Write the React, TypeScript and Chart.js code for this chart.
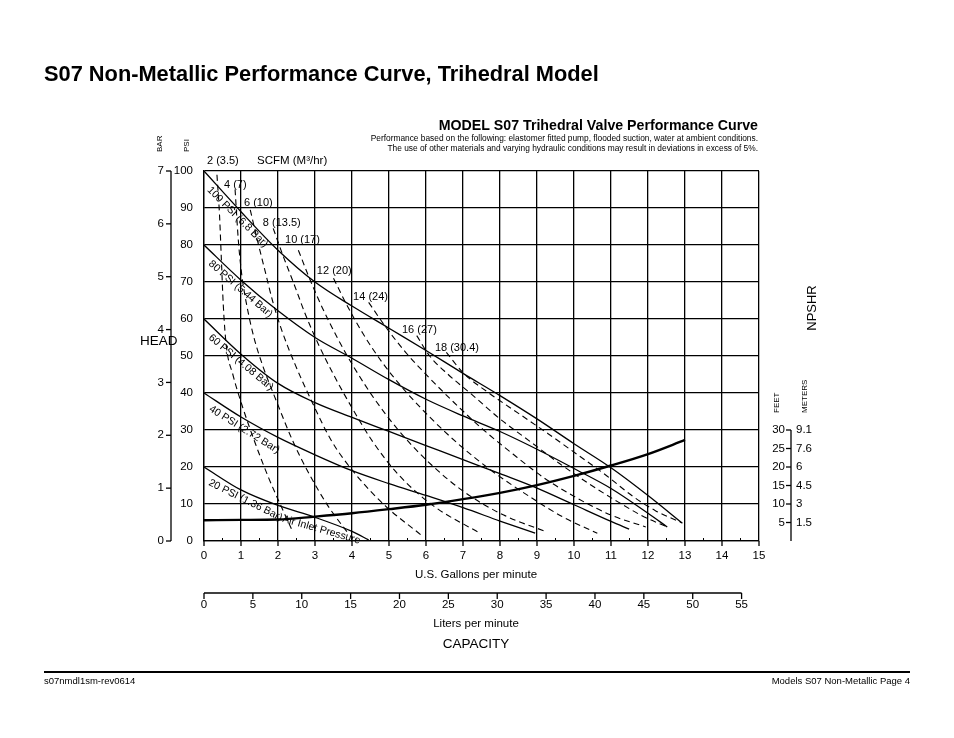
import React, { useEffect, useRef } from "react";
import { Chart, registerables } from "chart.js";

Chart.register(...registerables);

// ---------- axis ticks ----------
const gpmTicks = [0, 1, 2, 3, 4, 5, 6, 7, 8, 9, 10, 11, 12, 13, 14, 15];
const gpmHalfTicks = [0.5, 1.5, 2.5, 3.5, 4.5, 5.5, 6.5, 7.5, 8.5, 9.5, 10.5, 11.5, 12.5, 13.5, 14.5];
const psiTicks = [0, 10, 20, 30, 40, 50, 60, 70, 80, 90, 100];
const barTicks = [0, 1, 2, 3, 4, 5, 6, 7];
const literTicks = [0, 5, 10, 15, 20, 25, 30, 35, 40, 45, 50, 55];
const feetTicks = [5, 10, 15, 20, 25, 30];
const meterTicks = ["1.5", "3", "4.5", "6", "7.6", "9.1"];
const LITERS_PER_GALLON = 3.785411784;
const BAR_AT_TOP = 7; // 7 bar drawn at the 100 psi line

// ---------- air inlet pressure curves [gpm, psi] ----------
const psi100 = [[0, 100], [1, 89], [2, 78.6], [3, 70], [4, 63.5], [5, 57.5], [6, 51.5], [7, 45.3], [8, 39.3], [9, 33], [10, 26.3], [11, 19.8], [12, 12.3], [12.93, 4.8]];
const psi80 = [[0, 80], [1, 70.5], [2, 62.2], [3, 55], [4, 49.4], [5, 43.6], [6, 38.3], [7, 33.8], [8, 29.6], [9, 24.8], [10, 19.6], [11, 14.2], [12, 7.5], [12.52, 3.8]];
const psi60 = [[0, 60], [1, 50.5], [2, 42.6], [3, 37.4], [4, 33.4], [5, 29.6], [6, 25.8], [7, 22], [8, 18.2], [9, 14.3], [10, 9.8], [11, 5.3], [11.49, 3.2]];
const psi40 = [[0, 40], [1, 33.5], [2, 28], [3, 23.3], [4, 19], [5, 15.5], [6, 12.3], [7, 9], [8, 5.4], [8.95, 2.1]];
const psi20 = [[0, 20], [1, 13.8], [2, 9.6], [3, 6.4], [4, 2.6], [4.45, 0.3]];

// ---------- air consumption curves SCFM [gpm, psi] ----------
const scfm2 = [[0.35, 99], [0.42, 88], [0.47, 76], [0.52, 64], [0.6, 53], [0.78, 45], [1.05, 36], [1.4, 26], [1.75, 17], [2.08, 9.5], [2.4, 2.5]];
const scfm4 = [[0.84, 95], [0.93, 81], [1.02, 72], [1.15, 64], [1.35, 55], [1.6, 47], [1.95, 38], [2.4, 27], [2.85, 18], [3.35, 9.5], [3.9, 2]];
const scfm6 = [[1.25, 89.5], [1.45, 81], [1.65, 73], [1.85, 65], [2.1, 57], [2.45, 48], [2.9, 38], [3.45, 27], [4.1, 18], [4.9, 9.5], [5.87, 1.6]];
const scfm8 = [[1.87, 84.5], [2.14, 77], [2.45, 69], [2.75, 61], [3.1, 53], [3.5, 45], [4.0, 36], [4.55, 27], [5.25, 18], [6.2, 9.5], [7.46, 2.1]];
const scfm10 = [[2.55, 78.6], [2.85, 71], [3.2, 63], [3.6, 55], [4.05, 47], [4.6, 38.5], [5.25, 30], [6.05, 21.5], [7.0, 13.5], [8.1, 7], [9.25, 2.5]];
const scfm12 = [[3.5, 71], [3.85, 64], [4.3, 56], [4.8, 48.5], [5.4, 41], [6.1, 33.5], [6.9, 26], [7.8, 18.8], [8.8, 12], [9.7, 6.5], [10.63, 2.1]];
const scfm14 = [[4.45, 64.5], [4.9, 58], [5.45, 51], [6.05, 44.5], [6.75, 37.5], [7.5, 30.5], [8.35, 23.5], [9.2, 17], [10.1, 11.5], [11.0, 7], [11.94, 3.8]];
const scfm16 = [[5.75, 55.5], [6.1, 50], [6.6, 45], [7.25, 39.5], [8.0, 33], [8.8, 27], [9.6, 21], [10.4, 15.5], [11.2, 10.5], [11.9, 6.5], [12.5, 3.9]];
const scfm18 = [[6.55, 51], [7.0, 45.5], [7.7, 40], [8.5, 34.5], [9.3, 29], [10.1, 23.3], [10.9, 17.5], [11.6, 12], [12.2, 8.2], [12.9, 5]];

// ---------- NPSHR curve [gpm, feet] ----------
const npshr = [[0, 5.6], [1, 5.7], [2, 5.8], [3, 6.6], [4, 7.5], [5, 8.6], [6, 9.8], [7, 11.3], [8, 13.0], [9, 15.1], [10, 17.6], [11, 20.4], [12, 23.5], [13, 27.3]];

// ---------- texts ----------
const scfmLabels = ["2 (3.5)", "4 (7)", "6 (10)", "8 (13.5)", "10 (17)", "12 (20)", "14 (24)", "16 (27)", "18 (30.4)"];
const pressureLabels = ["100 PSI (6.8 Bar)", "80 PSI (5.44 Bar)", "60 PSI (4.08 Bar)", "40 PSI (2.72 Bar)", "20 PSI (1.36 Bar)"];

// label layout (data coordinates of the text anchor, rotation)
const scfmLabelAt = [[0.08, 102.7], [0.54, 96.2], [1.08, 91.4], [1.59, 85.9], [2.19, 81.4], [3.05, 73], [4.03, 65.9], [5.35, 57], [6.24, 52.2]];
const pressureLabelAt = [[0.13, 95.3], [0.16, 75.3], [0.16, 55.3], [0.16, 35.9], [0.14, 15.9]];
const pressureLabelAngle = [45, 41, 40, 32, 26.5];

const FONT = '"Liberation Sans", Arial, Helvetica, sans-serif';

function txt(ctx: CanvasRenderingContext2D, s: string, x: number, y: number, size: number,
  align: CanvasTextAlign = "left", bold = false, angle = 0, baseline: CanvasTextBaseline = "middle") {
  ctx.save();
  ctx.font = `${bold ? "bold " : ""}${size}px ${FONT}`;
  ctx.fillStyle = "#000";
  ctx.textAlign = align;
  ctx.textBaseline = baseline;
  ctx.translate(x, y);
  if (angle) ctx.rotate((angle * Math.PI) / 180);
  ctx.fillText(s, 0, 0);
  const w = ctx.measureText(s).width;
  ctx.restore();
  return w;
}

function seg(ctx: CanvasRenderingContext2D, x1: number, y1: number, x2: number, y2: number, w = 1.3) {
  ctx.save();
  ctx.strokeStyle = "#000";
  ctx.lineWidth = w;
  ctx.beginPath();
  ctx.moveTo(x1, y1);
  ctx.lineTo(x2, y2);
  ctx.stroke();
  ctx.restore();
}

const bgPlugin = {
  id: "bg",
  beforeDraw(chart: any) {
    const ctx = chart.ctx;
    ctx.save();
    ctx.fillStyle = "#fff";
    ctx.fillRect(0, 0, chart.width, chart.height);
    ctx.restore();
  },
};

const labelsPlugin = {
  id: "labels",
  afterDraw(chart: any) {
    const ctx: CanvasRenderingContext2D = chart.ctx;
    const xs = chart.scales.x;
    const ys = chart.scales.y;
    const px = (g: number) => xs.getPixelForValue(g);
    const py = (p: number) => ys.getPixelForValue(p);
    const L = xs.left, R = xs.right, T = ys.top, B = ys.bottom;

    // page title
    txt(ctx, "S07 Non-Metallic Performance Curve, Trihedral Model", 44, 75, 21.8, "left", true);

    // chart heading
    txt(ctx, "MODEL S07 Trihedral Valve Performance Curve", R - 1, 126, 14.2, "right", true);
    txt(ctx, "Performance based on the following: elastomer fitted pump, flooded suction, water at ambient conditions.", R - 1, 139, 8.35, "right");
    txt(ctx, "The use of other materials and varying hydraulic conditions may result in deviations in excess of 5%.", R - 1, 148.5, 8.35, "right");

    // gpm axis
    gpmTicks.forEach((g) => {
      seg(ctx, px(g), B, px(g), B + 5, 1.3);
      txt(ctx, String(g), px(g), B + 15, 11.5, "center");
    });
    gpmHalfTicks.forEach((g) => seg(ctx, px(g), B - 3, px(g), B, 1));
    txt(ctx, "U.S. Gallons per minute", 476, 575, 11.5, "center");

    // liters axis
    const lpx = (l: number) => px(l / LITERS_PER_GALLON);
    const ly = 593;
    seg(ctx, lpx(literTicks[0]), ly, lpx(literTicks[literTicks.length - 1]), ly, 1.3);
    literTicks.forEach((l) => {
      seg(ctx, lpx(l), ly, lpx(l), ly + 6, 1.3);
      txt(ctx, String(l), lpx(l), ly + 12, 11.5, "center");
    });
    txt(ctx, "Liters per minute", 476, 623.5, 11.5, "center");
    txt(ctx, "CAPACITY", 476, 644, 13.5, "center");

    // psi labels
    psiTicks.forEach((p) => txt(ctx, String(p), L - 11, py(p), 11.5, "right"));
    // bar axis
    const bx = L - 33;
    seg(ctx, bx, T, bx, B, 1.3);
    barTicks.forEach((b) => {
      const y = py((b * 100) / BAR_AT_TOP);
      seg(ctx, bx - 5, y, bx, y, 1.3);
      txt(ctx, String(b), bx - 7, y, 11.5, "right");
    });
    txt(ctx, "BAR", 160, 152, 8, "left", false, -90);
    txt(ctx, "PSI", 187, 152, 8, "left", false, -90);
    txt(ctx, "HEAD", 140, 341, 13.5, "left");

    // NPSHR axis
    const ax = 791;
    seg(ctx, ax, py(feetTicks[feetTicks.length - 1]), ax, B, 1.3);
    feetTicks.forEach((f, i) => {
      seg(ctx, ax - 5, py(f), ax, py(f), 1.3);
      txt(ctx, String(f), ax - 6, py(f), 11.5, "right");
      txt(ctx, meterTicks[i], ax + 5, py(f), 11.5, "left");
    });
    txt(ctx, "FEET", 777, 413, 8, "left", false, -90);
    txt(ctx, "METERS", 805, 413, 8, "left", false, -90);
    txt(ctx, "NPSHR", 812, 308, 13, "center", false, -90);

    // SCFM labels
    scfmLabels.forEach((s, i) => {
      const [g, p] = scfmLabelAt[i];
      txt(ctx, s, px(g), py(p), 11, "left");
    });
    txt(ctx, "SCFM (M\u00B3/hr)", 257, 161, 11.5, "left");

    // pressure labels (text follows below each curve)
    let endX = 0, endY = 0;
    pressureLabels.forEach((s, i) => {
      const [g, p] = pressureLabelAt[i];
      const x0 = px(g), y0 = py(p);
      const a = pressureLabelAngle[i];
      const w = txt(ctx, s, x0, y0, 10.5, "left", false, a);
      endX = x0 + (w + 1) * Math.cos((a * Math.PI) / 180);
      endY = y0 + (w + 1) * Math.sin((a * Math.PI) / 180);
    });
    txt(ctx, "Air Inlet Pressure", endX, endY, 10.5, "left", false, 16);

    // footer
    seg(ctx, 44, 672, 910, 672, 2);
    txt(ctx, "s07nmdl1sm-rev0614", 44, 681, 9.5, "left");
    txt(ctx, "Models S07 Non-Metallic Page 4", 910, 681, 9.5, "right");
  },
};

const toXY = (pts: number[][]) => pts.map(([x, y]) => ({ x, y }));
const solid = (label: string, pts: number[][], width = 1.3) => ({
  label,
  data: toXY(pts),
  borderColor: "#000",
  backgroundColor: "#000",
  borderWidth: width,
  pointRadius: 0,
  fill: false,
  cubicInterpolationMode: "monotone" as const,
});
const dashed = (label: string, pts: number[][]) => ({ ...solid(label, pts, 1.1), borderDash: [6, 4] });

export default function App() {
  const ref = useRef<HTMLCanvasElement>(null);
  useEffect(() => {
    const canvas = ref.current;
    if (!canvas) return;
    const chart = new Chart(canvas, {
      type: "line",
      data: {
        datasets: [
          solid("100 PSI", psi100),
          solid("80 PSI", psi80),
          solid("60 PSI", psi60),
          solid("40 PSI", psi40),
          solid("20 PSI", psi20),
          dashed("2 SCFM", scfm2),
          dashed("4 SCFM", scfm4),
          dashed("6 SCFM", scfm6),
          dashed("8 SCFM", scfm8),
          dashed("10 SCFM", scfm10),
          dashed("12 SCFM", scfm12),
          dashed("14 SCFM", scfm14),
          dashed("16 SCFM", scfm16),
          dashed("18 SCFM", scfm18),
          solid("NPSHR", npshr, 2.4),
        ] as any,
      },
      options: {
        animation: false,
        responsive: false,
        maintainAspectRatio: false,
        layout: { padding: { left: 204, top: 171, right: 195, bottom: 197 } },
        plugins: { legend: { display: false }, tooltip: { enabled: false }, title: { display: false } },
        scales: {
          x: {
            type: "linear",
            min: 0,
            max: 15,
            ticks: { display: false, stepSize: 1 },
            grid: { color: "#000", lineWidth: 1.3, drawTicks: false },
            border: { display: true, color: "#000", width: 1.3 },
          },
          y: {
            type: "linear",
            min: 0,
            max: 100,
            ticks: { display: false, stepSize: 10 },
            grid: { color: "#000", lineWidth: 1.3, drawTicks: false },
            border: { display: true, color: "#000", width: 1.3 },
          },
        },
      },
      plugins: [bgPlugin, labelsPlugin],
    });
    return () => chart.destroy();
  }, []);
  return (
    <div style={{ position: "absolute", left: 0, top: 0, width: 954, height: 738, background: "#fff" }}>
      <canvas ref={ref} width={954} height={738} style={{ display: "block" }} />
    </div>
  );
}
